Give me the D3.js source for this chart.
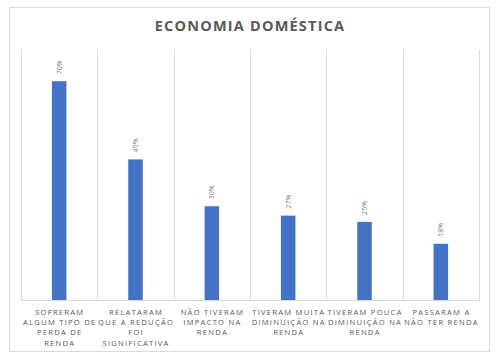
<!DOCTYPE html>
<html>
<head>
<meta charset="utf-8">
<script src="https://cdn.jsdelivr.net/npm/d3@7"></script>
<style>
  html, body { margin: 0; padding: 0; background: #fff; }
  svg { display: block; }
</style>
</head>
<body>
<script>
const categories = [
  "SOFRERAM ALGUM TIPO DE PERDA DE RENDA",
  "RELATARAM QUE A REDUÇÃO FOI SIGNIFICATIVA",
  "NÃO TIVERAM IMPACTO NA RENDA",
  "TIVERAM MUITA DIMINUIÇÃO NA RENDA",
  "TIVERAM POUCA DIMINUIÇÃO NA RENDA",
  "PASSARAM A NÃO TER RENDA"
];
const categoryLines = [
  ["SOFRERAM", "ALGUM TIPO DE", "PERDA DE", "RENDA"],
  ["RELATARAM", "QUE A REDUÇÃO", "FOI", "SIGNIFICATIVA"],
  ["NÃO TIVERAM", "IMPACTO NA", "RENDA"],
  ["TIVERAM MUITA", "DIMINUIÇÃO NA", "RENDA"],
  ["TIVERAM POUCA", "DIMINUIÇÃO NA", "RENDA"],
  ["PASSARAM A", "NÃO TER RENDA"]
];
const values = [0.70, 0.45, 0.30, 0.27, 0.25, 0.18];
const valueLabels = ["70%", "45%", "30%", "27%", "25%", "18%"];
const title = "ECONOMIA DOMÉSTICA";

const W = 500, H = 364;
const svg = d3.select("body").append("svg").attr("width", W).attr("height", H);

svg.append("rect").attr("x", 9.5).attr("y", 7.5).attr("width", 480).attr("height", 344)
  .attr("fill", "#fff").attr("stroke", "#d9d9d9").attr("stroke-width", 1);

svg.append("text").attr("x", 250).attr("y", 31).attr("text-anchor", "middle")
  .attr("font-family", "Open Sans").attr("font-weight", "bold").attr("font-size", 14.5)
  .attr("letter-spacing", 1.2).attr("fill", "#595959").text(title);

const plotL = 21, plotR = 479, plotT = 50, plotB = 300;
const x = d3.scaleBand().domain(categories).range([plotL, plotR]).padding(0);
const y = d3.scaleLinear().domain([0, 0.8]).range([plotB, plotT]);

// vertical category gridlines
const bounds = categories.map(c => x(c)).concat([plotR]);
svg.append("g").selectAll("line").data(bounds).join("line")
  .attr("x1", d => Math.round(d) + 0.5).attr("x2", d => Math.round(d) + 0.5)
  .attr("y1", plotT).attr("y2", plotB)
  .attr("stroke", "#d9d9d9").attr("stroke-width", 1);

// baseline
svg.append("line").attr("x1", plotL).attr("x2", plotR).attr("y1", plotB + 0.5).attr("y2", plotB + 0.5)
  .attr("stroke", "#d9d9d9").attr("stroke-width", 1);

const barW = x.bandwidth() * 0.19;
svg.append("g").selectAll("rect").data(values).join("rect")
  .attr("x", (d, i) => x(categories[i]) + x.bandwidth() / 2 - barW / 2)
  .attr("y", d => y(d))
  .attr("width", barW)
  .attr("height", d => plotB - y(d))
  .attr("fill", "#4472c4");

// value labels (rotated)
svg.append("g").selectAll("text").data(values).join("text")
  .attr("transform", (d, i) => {
    const cx = x(categories[i]) + x.bandwidth() / 2 + 2.5;
    return `translate(${cx},${y(d) - 7}) rotate(-90)`;
  })
  .attr("text-anchor", "start")
  .attr("font-family", "Open Sans").attr("font-size", 7)
  .attr("fill", "#7f7f7f")
  .text((d, i) => valueLabels[i]);

// category labels
const lab = svg.append("g");
categories.forEach((c, i) => {
  const cx = x(c) + x.bandwidth() / 2;
  const t = lab.append("text").attr("text-anchor", "middle")
    .attr("font-family", "Open Sans").attr("font-size", 7.6)
    .attr("letter-spacing", 1.25).attr("fill", "#595959");
  categoryLines[i].forEach((ln, j) => {
    t.append("tspan").attr("x", cx + 0.6).attr("y", 314.5 + j * 10.4).text(ln);
  });
});
</script>
</body>
</html>
